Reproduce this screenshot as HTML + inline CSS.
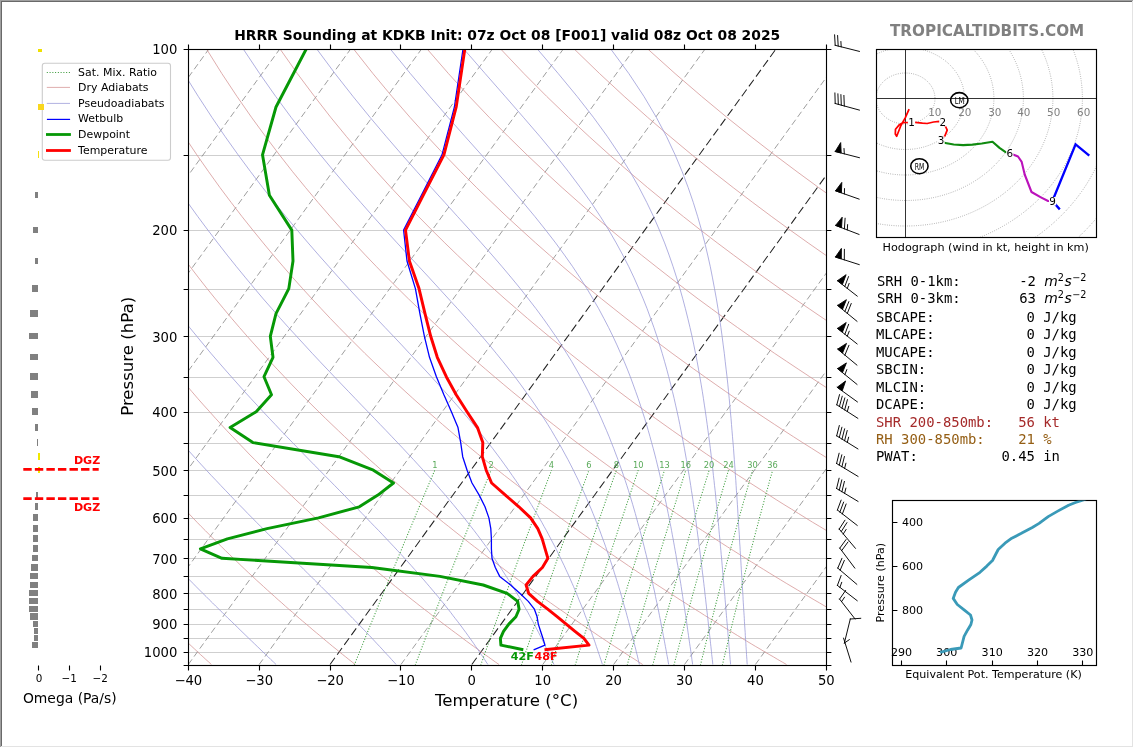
<!DOCTYPE html>
<html><head><meta charset="utf-8"><title>HRRR Sounding at KDKB</title>
<style>
html,body{margin:0;padding:0;background:#fff;}
body{width:1134px;height:748px;overflow:hidden;position:relative;}
svg{position:absolute;left:0;top:0;will-change:transform;font-family:"DejaVu Sans","Liberation Sans",sans-serif;}
svg text{white-space:pre;}
</style></head><body>
<svg width="1134" height="748" viewBox="0 0 1134 748">
<defs><clipPath id="cm"><rect x="188.2" y="49.2" width="638.1" height="616.1"/></clipPath>
<clipPath id="ch"><rect x="876.5" y="49.5" width="220" height="188"/></clipPath>
<clipPath id="ct"><rect x="892.5" y="500.5" width="204" height="165"/></clipPath>
</defs>
<g clip-path="url(#cm)" fill="none">
<path d="M188.3 155.50H826.0" stroke="#bcbcbc" stroke-width="0.72"/>
<path d="M188.3 230.50H826.0" stroke="#bcbcbc" stroke-width="0.72"/>
<path d="M188.3 289.50H826.0" stroke="#bcbcbc" stroke-width="0.72"/>
<path d="M188.3 336.50H826.0" stroke="#bcbcbc" stroke-width="0.72"/>
<path d="M188.3 377.50H826.0" stroke="#bcbcbc" stroke-width="0.72"/>
<path d="M188.3 412.50H826.0" stroke="#bcbcbc" stroke-width="0.72"/>
<path d="M188.3 443.50H826.0" stroke="#bcbcbc" stroke-width="0.72"/>
<path d="M188.3 470.50H826.0" stroke="#bcbcbc" stroke-width="0.72"/>
<path d="M188.3 495.50H826.0" stroke="#bcbcbc" stroke-width="0.72"/>
<path d="M188.3 518.50H826.0" stroke="#bcbcbc" stroke-width="0.72"/>
<path d="M188.3 539.50H826.0" stroke="#bcbcbc" stroke-width="0.72"/>
<path d="M188.3 558.50H826.0" stroke="#bcbcbc" stroke-width="0.72"/>
<path d="M188.3 576.50H826.0" stroke="#bcbcbc" stroke-width="0.72"/>
<path d="M188.3 593.50H826.0" stroke="#bcbcbc" stroke-width="0.72"/>
<path d="M188.3 609.50H826.0" stroke="#bcbcbc" stroke-width="0.72"/>
<path d="M188.3 624.50H826.0" stroke="#bcbcbc" stroke-width="0.72"/>
<path d="M188.3 638.50H826.0" stroke="#bcbcbc" stroke-width="0.72"/>
<path d="M188.3 652.50H826.0" stroke="#bcbcbc" stroke-width="0.72"/>
<path d="M-378.85 664.53L67.43 48.55" stroke="#858585" stroke-width="0.8" stroke-dasharray="6.4 3.4"/>
<path d="M-307.96 664.53L138.32 48.55" stroke="#858585" stroke-width="0.8" stroke-dasharray="6.4 3.4"/>
<path d="M-237.07 664.53L209.21 48.55" stroke="#858585" stroke-width="0.8" stroke-dasharray="6.4 3.4"/>
<path d="M-166.18 664.53L280.10 48.55" stroke="#858585" stroke-width="0.8" stroke-dasharray="6.4 3.4"/>
<path d="M-95.29 664.53L350.99 48.55" stroke="#858585" stroke-width="0.8" stroke-dasharray="6.4 3.4"/>
<path d="M-24.40 664.53L421.88 48.55" stroke="#858585" stroke-width="0.8" stroke-dasharray="6.4 3.4"/>
<path d="M46.49 664.53L492.77 48.55" stroke="#858585" stroke-width="0.8" stroke-dasharray="6.4 3.4"/>
<path d="M117.38 664.53L563.66 48.55" stroke="#858585" stroke-width="0.8" stroke-dasharray="6.4 3.4"/>
<path d="M188.27 664.53L634.55 48.55" stroke="#858585" stroke-width="0.8" stroke-dasharray="6.4 3.4"/>
<path d="M259.16 664.53L705.44 48.55" stroke="#858585" stroke-width="0.8" stroke-dasharray="6.4 3.4"/>
<path d="M330.05 664.53L776.33 48.55" stroke="#222" stroke-width="1.05" stroke-dasharray="8.3 3.8"/>
<path d="M400.94 664.53L847.22 48.55" stroke="#858585" stroke-width="0.8" stroke-dasharray="6.4 3.4"/>
<path d="M471.83 664.53L918.11 48.55" stroke="#222" stroke-width="1.05" stroke-dasharray="8.3 3.8"/>
<path d="M542.72 664.53L989.00 48.55" stroke="#858585" stroke-width="0.8" stroke-dasharray="6.4 3.4"/>
<path d="M613.61 664.53L1059.89 48.55" stroke="#858585" stroke-width="0.8" stroke-dasharray="6.4 3.4"/>
<path d="M684.50 664.53L1130.78 48.55" stroke="#858585" stroke-width="0.8" stroke-dasharray="6.4 3.4"/>
<path d="M755.39 664.53L1201.67 48.55" stroke="#858585" stroke-width="0.8" stroke-dasharray="6.4 3.4"/>
<path d="M826.28 664.53L1272.56 48.55" stroke="#858585" stroke-width="0.8" stroke-dasharray="6.4 3.4"/>
<path d="M211.4 664.5L208.7 662.0L205.9 659.5L203.1 656.9L200.3 654.4L197.5 651.8L194.7 649.1L191.9 646.5L189.0 643.8L186.1 641.1L183.3 638.3L180.4 635.5L177.4 632.7L174.5 629.9L171.6 627.0L168.6 624.1L165.6 621.2L162.6 618.3L159.6 615.3L156.5 612.2L153.5 609.2L150.4 606.1L147.3 602.9L144.2 599.8L141.1 596.5L137.9 593.3L134.8 590.0L131.6 586.7L128.4 583.3L125.1 579.9L121.9 576.4L118.6 572.9L115.3 569.3L112.0 565.7L108.7 562.0L105.3 558.3L101.9 554.5L98.5 550.7L95.1 546.8L91.6 542.9L88.1 538.9L84.6 534.8L81.1 530.7L77.5 526.5L74.0 522.3L70.3 517.9L66.7 513.5L63.0 509.0L59.3 504.5L55.6 499.9L51.8 495.1L48.0 490.3L44.2 485.4L40.3 480.4L36.4 475.4L32.5 470.2L28.6 464.9L24.6 459.5L20.5 454.0L16.5 448.3L12.4 442.6L8.2 436.7L4.0 430.7L-0.2 424.5L-4.5 418.2L-8.8 411.7L-13.1 405.1L-17.5 398.3L-22.0 391.3L-26.5 384.1L-31.0 376.7L-35.6 369.1L-40.2 361.3L-44.9 353.3L-49.7 344.9L-54.5 336.3L-59.3 327.5L-64.2 318.3L-69.2 308.7L-74.2 298.9L-79.3 288.6L-84.4 277.9L-89.6 266.7L-94.9 255.1L-100.2 242.9L-105.6 230.1L-111.0 216.7L-116.5 202.5L-122.0 187.6L-127.6 171.7L-133.2 154.8L-138.9 136.7L-144.6 117.3L-150.2 96.3L-155.8 73.5L-161.4 48.5" stroke="#d39292" stroke-width="0.75"/>
<path d="M355.2 664.5L352.1 662.0L348.9 659.5L345.7 656.9L342.5 654.4L339.3 651.8L336.1 649.1L332.8 646.5L329.6 643.8L326.3 641.1L323.0 638.3L319.7 635.5L316.3 632.7L312.9 629.9L309.6 627.0L306.2 624.1L302.7 621.2L299.3 618.3L295.8 615.3L292.4 612.2L288.8 609.2L285.3 606.1L281.8 602.9L278.2 599.8L274.6 596.5L271.0 593.3L267.3 590.0L263.7 586.7L260.0 583.3L256.2 579.9L252.5 576.4L248.7 572.9L244.9 569.3L241.1 565.7L237.3 562.0L233.4 558.3L229.5 554.5L225.5 550.7L221.6 546.8L217.6 542.9L213.5 538.9L209.5 534.8L205.4 530.7L201.2 526.5L197.1 522.3L192.9 517.9L188.7 513.5L184.4 509.0L180.1 504.5L175.7 499.9L171.4 495.1L166.9 490.3L162.5 485.4L158.0 480.4L153.4 475.4L148.9 470.2L144.2 464.9L139.6 459.5L134.8 454.0L130.1 448.3L125.3 442.6L120.4 436.7L115.5 430.7L110.5 424.5L105.5 418.2L100.4 411.7L95.3 405.1L90.1 398.3L84.8 391.3L79.5 384.1L74.1 376.7L68.6 369.1L63.1 361.3L57.5 353.3L51.9 344.9L46.1 336.3L40.3 327.5L34.4 318.3L28.4 308.7L22.4 298.9L16.2 288.6L10.0 277.9L3.6 266.7L-2.8 255.1L-9.3 242.9L-16.0 230.1L-22.7 216.7L-29.6 202.5L-36.5 187.6L-43.6 171.7L-50.7 154.8L-58.0 136.7L-65.3 117.3L-72.8 96.3L-80.3 73.5L-87.9 48.5" stroke="#d39292" stroke-width="0.75"/>
<path d="M499.0 664.5L495.4 662.0L491.9 659.5L488.3 656.9L484.7 654.4L481.1 651.8L477.5 649.1L473.8 646.5L470.1 643.8L466.4 641.1L462.7 638.3L459.0 635.5L455.2 632.7L451.4 629.9L447.6 627.0L443.7 624.1L439.9 621.2L436.0 618.3L432.1 615.3L428.2 612.2L424.2 609.2L420.2 606.1L416.2 602.9L412.2 599.8L408.1 596.5L404.0 593.3L399.9 590.0L395.7 586.7L391.6 583.3L387.3 579.9L383.1 576.4L378.8 572.9L374.5 569.3L370.2 565.7L365.8 562.0L361.4 558.3L357.0 554.5L352.5 550.7L348.0 546.8L343.5 542.9L338.9 538.9L334.3 534.8L329.6 530.7L324.9 526.5L320.2 522.3L315.4 517.9L310.6 513.5L305.8 509.0L300.9 504.5L295.9 499.9L290.9 495.1L285.9 490.3L280.8 485.4L275.6 480.4L270.4 475.4L265.2 470.2L259.9 464.9L254.6 459.5L249.1 454.0L243.7 448.3L238.2 442.6L232.6 436.7L226.9 430.7L221.2 424.5L215.4 418.2L209.6 411.7L203.6 405.1L197.6 398.3L191.6 391.3L185.4 384.1L179.2 376.7L172.8 369.1L166.4 361.3L159.9 353.3L153.4 344.9L146.7 336.3L139.9 327.5L133.0 318.3L126.0 308.7L118.9 298.9L111.7 288.6L104.3 277.9L96.8 266.7L89.2 255.1L81.5 242.9L73.6 230.1L65.6 216.7L57.4 202.5L49.0 187.6L40.5 171.7L31.8 154.8L22.9 136.7L13.9 117.3L4.6 96.3L-4.8 73.5L-14.4 48.5" stroke="#d39292" stroke-width="0.75"/>
<path d="M642.7 664.5L638.8 662.0L634.9 659.5L630.9 656.9L626.9 654.4L622.9 651.8L618.8 649.1L614.8 646.5L610.7 643.8L606.6 641.1L602.4 638.3L598.2 635.5L594.1 632.7L589.8 629.9L585.6 627.0L581.3 624.1L577.0 621.2L572.7 618.3L568.4 615.3L564.0 612.2L559.6 609.2L555.1 606.1L550.6 602.9L546.1 599.8L541.6 596.5L537.0 593.3L532.4 590.0L527.8 586.7L523.1 583.3L518.5 579.9L513.7 576.4L508.9 572.9L504.1 569.3L499.3 565.7L494.4 562.0L489.5 558.3L484.5 554.5L479.5 550.7L474.5 546.8L469.4 542.9L464.3 538.9L459.1 534.8L453.9 530.7L448.7 526.5L443.3 522.3L438.0 517.9L432.6 513.5L427.1 509.0L421.6 504.5L416.1 499.9L410.5 495.1L404.8 490.3L399.1 485.4L393.3 480.4L387.4 475.4L381.5 470.2L375.6 464.9L369.5 459.5L363.5 454.0L357.3 448.3L351.0 442.6L344.7 436.7L338.4 430.7L331.9 424.5L325.3 418.2L318.7 411.7L312.0 405.1L305.2 398.3L298.3 391.3L291.3 384.1L284.3 376.7L277.1 369.1L269.8 361.3L262.4 353.3L254.9 344.9L247.2 336.3L239.5 327.5L231.6 318.3L223.6 308.7L215.4 298.9L207.1 288.6L198.7 277.9L190.1 266.7L181.3 255.1L172.3 242.9L163.2 230.1L153.8 216.7L144.3 202.5L134.5 187.6L124.5 171.7L114.3 154.8L103.8 136.7L93.1 117.3L82.1 96.3L70.8 73.5L59.1 48.5" stroke="#d39292" stroke-width="0.75"/>
<path d="M786.5 664.5L782.2 662.0L777.8 659.5L773.5 656.9L769.1 654.4L764.6 651.8L760.2 649.1L755.7 646.5L751.2 643.8L746.7 641.1L742.1 638.3L737.5 635.5L732.9 632.7L728.3 629.9L723.6 627.0L718.9 624.1L714.2 621.2L709.4 618.3L704.6 615.3L699.8 612.2L694.9 609.2L690.0 606.1L685.1 602.9L680.1 599.8L675.1 596.5L670.1 593.3L665.0 590.0L659.9 586.7L654.7 583.3L649.6 579.9L644.3 576.4L639.1 572.9L633.7 569.3L628.4 565.7L623.0 562.0L617.6 558.3L612.1 554.5L606.5 550.7L601.0 546.8L595.3 542.9L589.7 538.9L584.0 534.8L578.2 530.7L572.4 526.5L566.5 522.3L560.5 517.9L554.6 513.5L548.5 509.0L542.4 504.5L536.2 499.9L530.0 495.1L523.7 490.3L517.4 485.4L510.9 480.4L504.4 475.4L497.9 470.2L491.3 464.9L484.5 459.5L477.8 454.0L470.9 448.3L463.9 442.6L456.9 436.7L449.8 430.7L442.6 424.5L435.3 418.2L427.9 411.7L420.4 405.1L412.8 398.3L405.1 391.3L397.3 384.1L389.3 376.7L381.3 369.1L373.1 361.3L364.8 353.3L356.4 344.9L347.8 336.3L339.1 327.5L330.2 318.3L321.2 308.7L312.0 298.9L302.6 288.6L293.0 277.9L283.3 266.7L273.3 255.1L263.2 242.9L252.8 230.1L242.1 216.7L231.2 202.5L220.0 187.6L208.6 171.7L196.8 154.8L184.7 136.7L172.3 117.3L159.5 96.3L146.3 73.5L132.6 48.5" stroke="#d39292" stroke-width="0.75"/>
<path d="M930.3 664.5L925.6 662.0L920.8 659.5L916.1 656.9L911.3 654.4L906.4 651.8L901.6 649.1L896.7 646.5L891.8 643.8L886.8 641.1L881.9 638.3L876.8 635.5L871.8 632.7L866.7 629.9L861.6 627.0L856.5 624.1L851.3 621.2L846.1 618.3L840.9 615.3L835.6 612.2L830.3 609.2L824.9 606.1L819.5 602.9L814.1 599.8L808.6 596.5L803.1 593.3L797.6 590.0L792.0 586.7L786.3 583.3L780.7 579.9L774.9 576.4L769.2 572.9L763.4 569.3L757.5 565.7L751.6 562.0L745.6 558.3L739.6 554.5L733.6 550.7L727.4 546.8L721.3 542.9L715.1 538.9L708.8 534.8L702.5 530.7L696.1 526.5L689.6 522.3L683.1 517.9L676.5 513.5L669.9 509.0L663.2 504.5L656.4 499.9L649.6 495.1L642.6 490.3L635.7 485.4L628.6 480.4L621.4 475.4L614.2 470.2L606.9 464.9L599.5 459.5L592.1 454.0L584.5 448.3L576.8 442.6L569.1 436.7L561.2 430.7L553.3 424.5L545.2 418.2L537.0 411.7L528.8 405.1L520.4 398.3L511.8 391.3L503.2 384.1L494.4 376.7L485.5 369.1L476.4 361.3L467.2 353.3L457.9 344.9L448.4 336.3L438.7 327.5L428.8 318.3L418.8 308.7L408.5 298.9L398.1 288.6L387.4 277.9L376.5 266.7L365.4 255.1L354.0 242.9L342.3 230.1L330.4 216.7L318.1 202.5L305.6 187.6L292.6 171.7L279.4 154.8L265.7 136.7L251.5 117.3L236.9 96.3L221.8 73.5L206.2 48.5" stroke="#d39292" stroke-width="0.75"/>
<path d="M1074.0 664.5L1068.9 662.0L1063.8 659.5L1058.6 656.9L1053.4 654.4L1048.2 651.8L1042.9 649.1L1037.7 646.5L1032.3 643.8L1027.0 641.1L1021.6 638.3L1016.1 635.5L1010.7 632.7L1005.2 629.9L999.6 627.0L994.1 624.1L988.5 621.2L982.8 618.3L977.1 615.3L971.4 612.2L965.6 609.2L959.8 606.1L954.0 602.9L948.1 599.8L942.1 596.5L936.1 593.3L930.1 590.0L924.0 586.7L917.9 583.3L911.8 579.9L905.5 576.4L899.3 572.9L893.0 569.3L886.6 565.7L880.2 562.0L873.7 558.3L867.2 554.5L860.6 550.7L853.9 546.8L847.2 542.9L840.4 538.9L833.6 534.8L826.7 530.7L819.8 526.5L812.7 522.3L805.6 517.9L798.5 513.5L791.3 509.0L783.9 504.5L776.6 499.9L769.1 495.1L761.6 490.3L753.9 485.4L746.2 480.4L738.4 475.4L730.6 470.2L722.6 464.9L714.5 459.5L706.4 454.0L698.1 448.3L689.7 442.6L681.3 436.7L672.7 430.7L664.0 424.5L655.2 418.2L646.2 411.7L637.1 405.1L627.9 398.3L618.6 391.3L609.1 384.1L599.5 376.7L589.7 369.1L579.8 361.3L569.7 353.3L559.4 344.9L548.9 336.3L538.3 327.5L527.4 318.3L516.3 308.7L505.0 298.9L493.5 288.6L481.8 277.9L469.7 266.7L457.4 255.1L444.8 242.9L431.9 230.1L418.7 216.7L405.1 202.5L391.1 187.6L376.7 171.7L361.9 154.8L346.6 136.7L330.7 117.3L314.4 96.3L297.3 73.5L279.7 48.5" stroke="#d39292" stroke-width="0.75"/>
<path d="M1217.8 664.5L1212.3 662.0L1206.8 659.5L1201.2 656.9L1195.6 654.4L1190.0 651.8L1184.3 649.1L1178.6 646.5L1172.9 643.8L1167.1 641.1L1161.3 638.3L1155.4 635.5L1149.6 632.7L1143.6 629.9L1137.7 627.0L1131.7 624.1L1125.6 621.2L1119.5 618.3L1113.4 615.3L1107.2 612.2L1101.0 609.2L1094.7 606.1L1088.4 602.9L1082.0 599.8L1075.6 596.5L1069.2 593.3L1062.7 590.0L1056.1 586.7L1049.5 583.3L1042.9 579.9L1036.1 576.4L1029.4 572.9L1022.6 569.3L1015.7 565.7L1008.7 562.0L1001.7 558.3L994.7 554.5L987.6 550.7L980.4 546.8L973.1 542.9L965.8 538.9L958.4 534.8L951.0 530.7L943.5 526.5L935.9 522.3L928.2 517.9L920.5 513.5L912.6 509.0L904.7 504.5L896.7 499.9L888.7 495.1L880.5 490.3L872.2 485.4L863.9 480.4L855.4 475.4L846.9 470.2L838.3 464.9L829.5 459.5L820.7 454.0L811.7 448.3L802.6 442.6L793.4 436.7L784.1 430.7L774.7 424.5L765.1 418.2L755.4 411.7L745.5 405.1L735.5 398.3L725.4 391.3L715.1 384.1L704.6 376.7L693.9 369.1L683.1 361.3L672.1 353.3L660.9 344.9L649.5 336.3L637.9 327.5L626.0 318.3L613.9 308.7L601.6 298.9L589.0 288.6L576.1 277.9L562.9 266.7L549.5 255.1L535.6 242.9L521.5 230.1L506.9 216.7L492.0 202.5L476.6 187.6L460.8 171.7L444.4 154.8L427.5 136.7L410.0 117.3L391.8 96.3L372.9 73.5L353.2 48.5" stroke="#d39292" stroke-width="0.75"/>
<path d="M1361.6 664.5L1355.7 662.0L1349.8 659.5L1343.8 656.9L1337.8 654.4L1331.8 651.8L1325.7 649.1L1319.6 646.5L1313.4 643.8L1307.2 641.1L1301.0 638.3L1294.7 635.5L1288.4 632.7L1282.1 629.9L1275.7 627.0L1269.2 624.1L1262.7 621.2L1256.2 618.3L1249.6 615.3L1243.0 612.2L1236.3 609.2L1229.6 606.1L1222.8 602.9L1216.0 599.8L1209.1 596.5L1202.2 593.3L1195.2 590.0L1188.2 586.7L1181.1 583.3L1174.0 579.9L1166.8 576.4L1159.5 572.9L1152.2 569.3L1144.8 565.7L1137.3 562.0L1129.8 558.3L1122.2 554.5L1114.6 550.7L1106.9 546.8L1099.1 542.9L1091.2 538.9L1083.3 534.8L1075.3 530.7L1067.2 526.5L1059.0 522.3L1050.8 517.9L1042.4 513.5L1034.0 509.0L1025.5 504.5L1016.9 499.9L1008.2 495.1L999.4 490.3L990.5 485.4L981.5 480.4L972.4 475.4L963.2 470.2L953.9 464.9L944.5 459.5L935.0 454.0L925.3 448.3L915.5 442.6L905.6 436.7L895.6 430.7L885.4 424.5L875.0 418.2L864.5 411.7L853.9 405.1L843.1 398.3L832.1 391.3L821.0 384.1L809.7 376.7L798.2 369.1L786.5 361.3L774.5 353.3L762.4 344.9L750.1 336.3L737.5 327.5L724.6 318.3L711.5 308.7L698.1 298.9L684.5 288.6L670.5 277.9L656.2 266.7L641.5 255.1L626.5 242.9L611.1 230.1L595.2 216.7L578.9 202.5L562.1 187.6L544.8 171.7L526.9 154.8L508.4 136.7L489.2 117.3L469.2 96.3L448.4 73.5L426.7 48.5" stroke="#d39292" stroke-width="0.75"/>
<path d="M1505.3 664.5L1499.1 662.0L1492.7 659.5L1486.4 656.9L1480.0 654.4L1473.5 651.8L1467.1 649.1L1460.6 646.5L1454.0 643.8L1447.4 641.1L1440.7 638.3L1434.0 635.5L1427.3 632.7L1420.5 629.9L1413.7 627.0L1406.8 624.1L1399.9 621.2L1392.9 618.3L1385.9 615.3L1378.8 612.2L1371.7 609.2L1364.5 606.1L1357.3 602.9L1350.0 599.8L1342.7 596.5L1335.3 593.3L1327.8 590.0L1320.3 586.7L1312.7 583.3L1305.1 579.9L1297.4 576.4L1289.6 572.9L1281.8 569.3L1273.9 565.7L1265.9 562.0L1257.9 558.3L1249.8 554.5L1241.6 550.7L1233.3 546.8L1225.0 542.9L1216.6 538.9L1208.1 534.8L1199.5 530.7L1190.9 526.5L1182.1 522.3L1173.3 517.9L1164.4 513.5L1155.4 509.0L1146.3 504.5L1137.1 499.9L1127.7 495.1L1118.3 490.3L1108.8 485.4L1099.2 480.4L1089.4 475.4L1079.6 470.2L1069.6 464.9L1059.5 459.5L1049.3 454.0L1038.9 448.3L1028.4 442.6L1017.8 436.7L1007.0 430.7L996.1 424.5L985.0 418.2L973.7 411.7L962.3 405.1L950.7 398.3L938.9 391.3L926.9 384.1L914.8 376.7L902.4 369.1L889.8 361.3L877.0 353.3L863.9 344.9L850.6 336.3L837.1 327.5L823.2 318.3L809.1 308.7L794.7 298.9L779.9 288.6L764.8 277.9L749.4 266.7L733.6 255.1L717.3 242.9L700.6 230.1L683.5 216.7L665.8 202.5L647.6 187.6L628.9 171.7L609.4 154.8L589.3 136.7L568.4 117.3L546.6 96.3L523.9 73.5L500.2 48.5" stroke="#d39292" stroke-width="0.75"/>
<path d="M1649.1 664.5L1642.4 662.0L1635.7 659.5L1629.0 656.9L1622.2 654.4L1615.3 651.8L1608.4 649.1L1601.5 646.5L1594.5 643.8L1587.5 641.1L1580.5 638.3L1573.3 635.5L1566.2 632.7L1559.0 629.9L1551.7 627.0L1544.4 624.1L1537.0 621.2L1529.6 618.3L1522.2 615.3L1514.6 612.2L1507.1 609.2L1499.4 606.1L1491.7 602.9L1484.0 599.8L1476.2 596.5L1468.3 593.3L1460.4 590.0L1452.4 586.7L1444.3 583.3L1436.2 579.9L1428.0 576.4L1419.7 572.9L1411.4 569.3L1403.0 565.7L1394.5 562.0L1385.9 558.3L1377.3 554.5L1368.6 550.7L1359.8 546.8L1350.9 542.9L1342.0 538.9L1332.9 534.8L1323.8 530.7L1314.6 526.5L1305.3 522.3L1295.9 517.9L1286.4 513.5L1276.7 509.0L1267.0 504.5L1257.2 499.9L1247.3 495.1L1237.3 490.3L1227.1 485.4L1216.8 480.4L1206.4 475.4L1195.9 470.2L1185.3 464.9L1174.5 459.5L1163.6 454.0L1152.5 448.3L1141.3 442.6L1130.0 436.7L1118.4 430.7L1106.8 424.5L1094.9 418.2L1082.9 411.7L1070.7 405.1L1058.3 398.3L1045.7 391.3L1032.9 384.1L1019.8 376.7L1006.6 369.1L993.1 361.3L979.4 353.3L965.4 344.9L951.2 336.3L936.6 327.5L921.8 318.3L906.7 308.7L891.2 298.9L875.4 288.6L859.2 277.9L842.6 266.7L825.6 255.1L808.1 242.9L790.2 230.1L771.8 216.7L752.8 202.5L733.2 187.6L712.9 171.7L691.9 154.8L670.2 136.7L647.6 117.3L624.1 96.3L599.5 73.5L573.7 48.5" stroke="#d39292" stroke-width="0.75"/>
<path d="M1792.9 664.5L1785.8 662.0L1778.7 659.5L1771.6 656.9L1764.4 654.4L1757.1 651.8L1749.8 649.1L1742.5 646.5L1735.1 643.8L1727.7 641.1L1720.2 638.3L1712.6 635.5L1705.1 632.7L1697.4 629.9L1689.7 627.0L1682.0 624.1L1674.2 621.2L1666.3 618.3L1658.4 615.3L1650.4 612.2L1642.4 609.2L1634.3 606.1L1626.2 602.9L1617.9 599.8L1609.7 596.5L1601.3 593.3L1592.9 590.0L1584.4 586.7L1575.9 583.3L1567.3 579.9L1558.6 576.4L1549.8 572.9L1541.0 569.3L1532.1 565.7L1523.1 562.0L1514.0 558.3L1504.8 554.5L1495.6 550.7L1486.3 546.8L1476.9 542.9L1467.4 538.9L1457.8 534.8L1448.1 530.7L1438.3 526.5L1428.4 522.3L1418.4 517.9L1408.3 513.5L1398.1 509.0L1387.8 504.5L1377.4 499.9L1366.8 495.1L1356.2 490.3L1345.4 485.4L1334.5 480.4L1323.4 475.4L1312.3 470.2L1301.0 464.9L1289.5 459.5L1277.9 454.0L1266.1 448.3L1254.2 442.6L1242.1 436.7L1229.9 430.7L1217.4 424.5L1204.8 418.2L1192.0 411.7L1179.0 405.1L1165.8 398.3L1152.4 391.3L1138.8 384.1L1124.9 376.7L1110.8 369.1L1096.5 361.3L1081.8 353.3L1066.9 344.9L1051.7 336.3L1036.2 327.5L1020.4 318.3L1004.3 308.7L987.7 298.9L970.9 288.6L953.6 277.9L935.8 266.7L917.6 255.1L899.0 242.9L879.8 230.1L860.0 216.7L839.7 202.5L818.7 187.6L797.0 171.7L774.5 154.8L751.1 136.7L726.8 117.3L701.5 96.3L675.0 73.5L647.2 48.5" stroke="#d39292" stroke-width="0.75"/>
<path d="M-124.6 48.5L-118.1 73.5L-111.5 96.3L-105.0 117.3L-98.4 136.7L-92.0 154.8L-85.6 171.7L-79.3 187.6L-73.0 202.5L-66.9 216.7L-60.8 230.1L-54.8 242.9L-48.8 255.1L-43.0 266.7L-37.2 277.9L-31.5 288.6L-25.9 298.9L-20.4 308.7L-14.9 318.3L-9.5 327.5L-4.2 336.3L1.1 344.9L6.3 353.3L11.4 361.3L16.5 369.1L21.5 376.7L26.5 384.1L31.4 391.3L36.3 398.3L41.1 405.1L45.8 411.7L50.5 418.2L55.1 424.5L59.7 430.7L64.3 436.7L68.8 442.6L73.2 448.3L77.6 454.0L82.0 459.5L86.3 464.9L90.6 470.2L94.9 475.4L99.1 480.4L103.2 485.4L107.4 490.3L111.5 495.1L115.5 499.9L119.5 504.5L123.5 509.0L127.4 513.5L131.4 517.9L135.2 522.3L139.1 526.5L142.9 530.7L146.7 534.8L150.4 538.9L154.1 542.9L157.8 546.8L161.4 550.7L165.0 554.5L168.6 558.3L172.2 562.0L175.7 565.7L179.2 569.3L182.7 572.9L186.1 576.4L189.5 579.9L192.9 583.3L196.2 586.7L199.5 590.0L202.8 593.3L206.1 596.5L209.3 599.8L212.5 602.9L215.7 606.1L218.9 609.2L222.0 612.2L225.1 615.3L228.1 618.3L231.2 621.2L234.2 624.1L237.2 627.0L240.1 629.9L243.0 632.7L245.9 635.5L248.8 638.3L251.7 641.1L254.5 643.8L257.3 646.5L260.0 649.1L262.8 651.8L265.5 654.4L268.2 656.9L270.8 659.5L273.5 662.0L276.1 664.5" stroke="#9595d5" stroke-width="0.75"/>
<path d="M-51.1 48.5L-42.5 73.5L-34.1 96.3L-25.7 117.3L-17.5 136.7L-9.5 154.8L-1.5 171.7L6.3 187.6L13.9 202.5L21.4 216.7L28.8 230.1L36.1 242.9L43.2 255.1L50.2 266.7L57.1 277.9L63.9 288.6L70.6 298.9L77.2 308.7L83.7 318.3L90.1 327.5L96.4 336.3L102.6 344.9L108.7 353.3L114.7 361.3L120.7 369.1L126.6 376.7L132.4 384.1L138.1 391.3L143.7 398.3L149.3 405.1L154.8 411.7L160.3 418.2L165.7 424.5L171.0 430.7L176.2 436.7L181.4 442.6L186.5 448.3L191.6 454.0L196.6 459.5L201.5 464.9L206.4 470.2L211.2 475.4L216.0 480.4L220.7 485.4L225.4 490.3L230.0 495.1L234.5 499.9L239.0 504.5L243.5 509.0L247.8 513.5L252.2 517.9L256.5 522.3L260.7 526.5L264.9 530.7L269.0 534.8L273.0 538.9L277.1 542.9L281.0 546.8L284.9 550.7L288.8 554.5L292.6 558.3L296.4 562.0L300.1 565.7L303.7 569.3L307.3 572.9L310.9 576.4L314.4 579.9L317.9 583.3L321.3 586.7L324.6 590.0L327.9 593.3L331.2 596.5L334.4 599.8L337.6 602.9L340.7 606.1L343.8 609.2L346.8 612.2L349.8 615.3L352.7 618.3L355.6 621.2L358.4 624.1L361.2 627.0L364.0 629.9L366.7 632.7L369.4 635.5L372.0 638.3L374.6 641.1L377.1 643.8L379.7 646.5L382.1 649.1L384.5 651.8L386.9 654.4L389.3 656.9L391.6 659.5L393.9 662.0L396.1 664.5" stroke="#9595d5" stroke-width="0.75"/>
<path d="M22.4 48.5L33.0 73.5L43.3 96.3L53.5 117.3L63.4 136.7L73.1 154.8L82.5 171.7L91.8 187.6L100.8 202.5L109.7 216.7L118.4 230.1L126.9 242.9L135.2 255.1L143.4 266.7L151.5 277.9L159.4 288.6L167.1 298.9L174.7 308.7L182.2 318.3L189.6 327.5L196.8 336.3L203.9 344.9L210.9 353.3L217.8 361.3L224.6 369.1L231.3 376.7L237.9 384.1L244.3 391.3L250.7 398.3L257.0 405.1L263.1 411.7L269.2 418.2L275.2 424.5L281.0 430.7L286.8 436.7L292.5 442.6L298.1 448.3L303.6 454.0L308.9 459.5L314.2 464.9L319.5 470.2L324.6 475.4L329.6 480.4L334.5 485.4L339.3 490.3L344.1 495.1L348.7 499.9L353.3 504.5L357.8 509.0L362.1 513.5L366.4 517.9L370.6 522.3L374.7 526.5L378.8 530.7L382.7 534.8L386.5 538.9L390.3 542.9L394.0 546.8L397.6 550.7L401.2 554.5L404.6 558.3L408.0 562.0L411.3 565.7L414.5 569.3L417.7 572.9L420.7 576.4L423.8 579.9L426.7 583.3L429.6 586.7L432.4 590.0L435.2 593.3L437.9 596.5L440.5 599.8L443.1 602.9L445.6 606.1L448.1 609.2L450.5 612.2L452.8 615.3L455.1 618.3L457.4 621.2L459.6 624.1L461.8 627.0L463.9 629.9L466.0 632.7L468.0 635.5L470.0 638.3L472.0 641.1L473.9 643.8L475.7 646.5L477.6 649.1L479.4 651.8L481.1 654.4L482.9 656.9L484.6 659.5L486.2 662.0L487.9 664.5" stroke="#9595d5" stroke-width="0.75"/>
<path d="M95.9 48.5L108.5 73.5L120.8 96.3L132.7 117.3L144.3 136.7L155.6 154.8L166.6 171.7L177.3 187.6L187.7 202.5L197.9 216.7L207.9 230.1L217.7 242.9L227.2 255.1L236.5 266.7L245.7 277.9L254.6 288.6L263.3 298.9L271.9 308.7L280.3 318.3L288.5 327.5L296.6 336.3L304.5 344.9L312.2 353.3L319.7 361.3L327.1 369.1L334.3 376.7L341.4 384.1L348.3 391.3L355.0 398.3L361.5 405.1L367.9 411.7L374.2 418.2L380.2 424.5L386.2 430.7L391.9 436.7L397.5 442.6L402.9 448.3L408.2 454.0L413.4 459.5L418.3 464.9L423.2 470.2L427.9 475.4L432.4 480.4L436.8 485.4L441.1 490.3L445.3 495.1L449.3 499.9L453.2 504.5L456.9 509.0L460.6 513.5L464.2 517.9L467.6 522.3L470.9 526.5L474.2 530.7L477.3 534.8L480.4 538.9L483.3 542.9L486.2 546.8L489.0 550.7L491.7 554.5L494.3 558.3L496.8 562.0L499.3 565.7L501.7 569.3L504.0 572.9L506.3 576.4L508.5 579.9L510.7 583.3L512.8 586.7L514.8 590.0L516.8 593.3L518.8 596.5L520.7 599.8L522.5 602.9L524.3 606.1L526.0 609.2L527.8 612.2L529.4 615.3L531.1 618.3L532.7 621.2L534.2 624.1L535.7 627.0L537.2 629.9L538.7 632.7L540.1 635.5L541.5 638.3L542.9 641.1L544.2 643.8L545.5 646.5L546.8 649.1L548.0 651.8L549.3 654.4L550.5 656.9L551.7 659.5L552.8 662.0L554.0 664.5" stroke="#9595d5" stroke-width="0.75"/>
<path d="M169.4 48.5L184.0 73.5L198.2 96.3L211.9 117.3L225.2 136.7L238.1 154.8L250.6 171.7L262.7 187.6L274.5 202.5L286.0 216.7L297.2 230.1L308.1 242.9L318.7 255.1L329.0 266.7L339.0 277.9L348.8 288.6L358.3 298.9L367.5 308.7L376.4 318.3L385.1 327.5L393.5 336.3L401.6 344.9L409.4 353.3L417.0 361.3L424.3 369.1L431.3 376.7L438.0 384.1L444.5 391.3L450.8 398.3L456.8 405.1L462.5 411.7L468.1 418.2L473.4 424.5L478.4 430.7L483.3 436.7L488.0 442.6L492.5 448.3L496.8 454.0L500.9 459.5L504.8 464.9L508.6 470.2L512.2 475.4L515.7 480.4L519.1 485.4L522.3 490.3L525.4 495.1L528.4 499.9L531.3 504.5L534.0 509.0L536.7 513.5L539.3 517.9L541.8 522.3L544.1 526.5L546.5 530.7L548.7 534.8L550.8 538.9L552.9 542.9L555.0 546.8L556.9 550.7L558.8 554.5L560.6 558.3L562.4 562.0L564.2 565.7L565.8 569.3L567.5 572.9L569.1 576.4L570.6 579.9L572.1 583.3L573.6 586.7L575.0 590.0L576.4 593.3L577.7 596.5L579.0 599.8L580.3 602.9L581.6 606.1L582.8 609.2L584.0 612.2L585.1 615.3L586.3 618.3L587.4 621.2L588.5 624.1L589.6 627.0L590.6 629.9L591.6 632.7L592.6 635.5L593.6 638.3L594.6 641.1L595.5 643.8L596.4 646.5L597.3 649.1L598.2 651.8L599.1 654.4L599.9 656.9L600.8 659.5L601.6 662.0L602.4 664.5" stroke="#9595d5" stroke-width="0.75"/>
<path d="M242.9 48.5L259.6 73.5L275.6 96.3L291.1 117.3L306.0 136.7L320.4 154.8L334.3 171.7L347.8 187.6L360.8 202.5L373.3 216.7L385.4 230.1L397.1 242.9L408.3 255.1L419.0 266.7L429.4 277.9L439.2 288.6L448.6 298.9L457.6 308.7L466.2 318.3L474.3 327.5L482.0 336.3L489.3 344.9L496.2 353.3L502.7 361.3L508.9 369.1L514.8 376.7L520.3 384.1L525.5 391.3L530.5 398.3L535.2 405.1L539.6 411.7L543.8 418.2L547.8 424.5L551.6 430.7L555.1 436.7L558.6 442.6L561.8 448.3L564.9 454.0L567.9 459.5L570.7 464.9L573.4 470.2L575.9 475.4L578.4 480.4L580.7 485.4L583.0 490.3L585.2 495.1L587.2 499.9L589.2 504.5L591.2 509.0L593.0 513.5L594.8 517.9L596.5 522.3L598.2 526.5L599.8 530.7L601.3 534.8L602.8 538.9L604.3 542.9L605.7 546.8L607.0 550.7L608.4 554.5L609.6 558.3L610.9 562.0L612.1 565.7L613.3 569.3L614.4 572.9L615.5 576.4L616.6 579.9L617.7 583.3L618.7 586.7L619.7 590.0L620.7 593.3L621.6 596.5L622.5 599.8L623.4 602.9L624.3 606.1L625.2 609.2L626.1 612.2L626.9 615.3L627.7 618.3L628.5 621.2L629.3 624.1L630.0 627.0L630.8 629.9L631.5 632.7L632.3 635.5L633.0 638.3L633.7 641.1L634.3 643.8L635.0 646.5L635.7 649.1L636.3 651.8L637.0 654.4L637.6 656.9L638.2 659.5L638.8 662.0L639.4 664.5" stroke="#9595d5" stroke-width="0.75"/>
<path d="M316.4 48.5L335.0 73.5L352.9 96.3L370.0 117.3L386.4 136.7L402.0 154.8L417.0 171.7L431.3 187.6L444.9 202.5L457.7 216.7L469.9 230.1L481.3 242.9L492.1 255.1L502.1 266.7L511.5 277.9L520.3 288.6L528.4 298.9L536.0 308.7L543.1 318.3L549.6 327.5L555.7 336.3L561.4 344.9L566.6 353.3L571.6 361.3L576.1 369.1L580.4 376.7L584.4 384.1L588.2 391.3L591.7 398.3L595.1 405.1L598.2 411.7L601.2 418.2L603.9 424.5L606.6 430.7L609.1 436.7L611.4 442.6L613.7 448.3L615.8 454.0L617.9 459.5L619.8 464.9L621.7 470.2L623.5 475.4L625.2 480.4L626.8 485.4L628.4 490.3L629.9 495.1L631.3 499.9L632.7 504.5L634.0 509.0L635.3 513.5L636.5 517.9L637.7 522.3L638.9 526.5L640.0 530.7L641.1 534.8L642.2 538.9L643.2 542.9L644.2 546.8L645.1 550.7L646.1 554.5L647.0 558.3L647.9 562.0L648.7 565.7L649.6 569.3L650.4 572.9L651.2 576.4L651.9 579.9L652.7 583.3L653.4 586.7L654.2 590.0L654.9 593.3L655.5 596.5L656.2 599.8L656.9 602.9L657.5 606.1L658.2 609.2L658.8 612.2L659.4 615.3L660.0 618.3L660.6 621.2L661.1 624.1L661.7 627.0L662.3 629.9L662.8 632.7L663.3 635.5L663.9 638.3L664.4 641.1L664.9 643.8L665.4 646.5L665.9 649.1L666.4 651.8L666.8 654.4L667.3 656.9L667.8 659.5L668.2 662.0L668.7 664.5" stroke="#9595d5" stroke-width="0.75"/>
<path d="M389.9 48.5L410.3 73.5L429.7 96.3L448.0 117.3L465.2 136.7L481.4 154.8L496.4 171.7L510.3 187.6L523.2 202.5L535.0 216.7L545.7 230.1L555.6 242.9L564.5 255.1L572.7 266.7L580.1 277.9L586.9 288.6L593.0 298.9L598.7 308.7L603.8 318.3L608.6 327.5L612.9 336.3L616.9 344.9L620.6 353.3L624.1 361.3L627.3 369.1L630.3 376.7L633.0 384.1L635.6 391.3L638.1 398.3L640.4 405.1L642.5 411.7L644.6 418.2L646.5 424.5L648.3 430.7L650.0 436.7L651.6 442.6L653.2 448.3L654.7 454.0L656.1 459.5L657.4 464.9L658.7 470.2L659.9 475.4L661.1 480.4L662.3 485.4L663.3 490.3L664.4 495.1L665.4 499.9L666.4 504.5L667.3 509.0L668.2 513.5L669.1 517.9L669.9 522.3L670.8 526.5L671.6 530.7L672.3 534.8L673.1 538.9L673.8 542.9L674.5 546.8L675.2 550.7L675.9 554.5L676.5 558.3L677.1 562.0L677.8 565.7L678.4 569.3L679.0 572.9L679.5 576.4L680.1 579.9L680.7 583.3L681.2 586.7L681.7 590.0L682.2 593.3L682.7 596.5L683.2 599.8L683.7 602.9L684.2 606.1L684.7 609.2L685.1 612.2L685.6 615.3L686.0 618.3L686.5 621.2L686.9 624.1L687.3 627.0L687.7 629.9L688.1 632.7L688.5 635.5L688.9 638.3L689.3 641.1L689.7 643.8L690.1 646.5L690.5 649.1L690.9 651.8L691.2 654.4L691.6 656.9L691.9 659.5L692.3 662.0L692.6 664.5" stroke="#9595d5" stroke-width="0.75"/>
<path d="M463.4 48.5L485.1 73.5L505.1 96.3L523.4 117.3L540.1 136.7L555.1 154.8L568.5 171.7L580.4 187.6L591.1 202.5L600.5 216.7L608.8 230.1L616.2 242.9L622.8 255.1L628.8 266.7L634.1 277.9L638.8 288.6L643.2 298.9L647.1 308.7L650.6 318.3L653.9 327.5L656.9 336.3L659.6 344.9L662.2 353.3L664.5 361.3L666.7 369.1L668.7 376.7L670.6 384.1L672.4 391.3L674.1 398.3L675.6 405.1L677.1 411.7L678.5 418.2L679.8 424.5L681.0 430.7L682.2 436.7L683.3 442.6L684.4 448.3L685.4 454.0L686.4 459.5L687.3 464.9L688.2 470.2L689.1 475.4L689.9 480.4L690.7 485.4L691.4 490.3L692.2 495.1L692.9 499.9L693.5 504.5L694.2 509.0L694.8 513.5L695.5 517.9L696.1 522.3L696.6 526.5L697.2 530.7L697.7 534.8L698.3 538.9L698.8 542.9L699.3 546.8L699.8 550.7L700.3 554.5L700.8 558.3L701.2 562.0L701.7 565.7L702.1 569.3L702.5 572.9L703.0 576.4L703.4 579.9L703.8 583.3L704.2 586.7L704.6 590.0L704.9 593.3L705.3 596.5L705.7 599.8L706.0 602.9L706.4 606.1L706.7 609.2L707.1 612.2L707.4 615.3L707.8 618.3L708.1 621.2L708.4 624.1L708.7 627.0L709.1 629.9L709.4 632.7L709.7 635.5L710.0 638.3L710.3 641.1L710.6 643.8L710.9 646.5L711.2 649.1L711.5 651.8L711.7 654.4L712.0 656.9L712.3 659.5L712.6 662.0L712.8 664.5" stroke="#9595d5" stroke-width="0.75"/>
<path d="M536.9 48.5L558.2 73.5L577.0 96.3L593.4 117.3L607.5 136.7L619.7 154.8L630.1 171.7L639.1 187.6L646.8 202.5L653.6 216.7L659.4 230.1L664.6 242.9L669.1 255.1L673.1 266.7L676.7 277.9L679.9 288.6L682.8 298.9L685.4 308.7L687.8 318.3L690.0 327.5L692.0 336.3L693.8 344.9L695.5 353.3L697.1 361.3L698.5 369.1L699.8 376.7L701.1 384.1L702.3 391.3L703.4 398.3L704.4 405.1L705.4 411.7L706.3 418.2L707.2 424.5L708.0 430.7L708.8 436.7L709.6 442.6L710.3 448.3L711.0 454.0L711.6 459.5L712.3 464.9L712.9 470.2L713.4 475.4L714.0 480.4L714.5 485.4L715.1 490.3L715.6 495.1L716.0 499.9L716.5 504.5L717.0 509.0L717.4 513.5L717.8 517.9L718.3 522.3L718.7 526.5L719.0 530.7L719.4 534.8L719.8 538.9L720.2 542.9L720.5 546.8L720.9 550.7L721.2 554.5L721.6 558.3L721.9 562.0L722.2 565.7L722.5 569.3L722.8 572.9L723.1 576.4L723.4 579.9L723.7 583.3L724.0 586.7L724.3 590.0L724.6 593.3L724.9 596.5L725.1 599.8L725.4 602.9L725.7 606.1L725.9 609.2L726.2 612.2L726.4 615.3L726.7 618.3L726.9 621.2L727.2 624.1L727.4 627.0L727.7 629.9L727.9 632.7L728.1 635.5L728.4 638.3L728.6 641.1L728.8 643.8L729.0 646.5L729.3 649.1L729.5 651.8L729.7 654.4L729.9 656.9L730.1 659.5L730.4 662.0L730.6 664.5" stroke="#9595d5" stroke-width="0.75"/>
<path d="M610.4 48.5L628.8 73.5L643.9 96.3L656.3 117.3L666.6 136.7L675.1 154.8L682.2 171.7L688.2 187.6L693.3 202.5L697.7 216.7L701.5 230.1L704.8 242.9L707.7 255.1L710.3 266.7L712.5 277.9L714.5 288.6L716.4 298.9L718.0 308.7L719.5 318.3L720.9 327.5L722.1 336.3L723.2 344.9L724.3 353.3L725.2 361.3L726.1 369.1L727.0 376.7L727.8 384.1L728.5 391.3L729.2 398.3L729.8 405.1L730.4 411.7L731.0 418.2L731.5 424.5L732.0 430.7L732.5 436.7L733.0 442.6L733.5 448.3L733.9 454.0L734.3 459.5L734.7 464.9L735.1 470.2L735.4 475.4L735.8 480.4L736.1 485.4L736.4 490.3L736.8 495.1L737.1 499.9L737.4 504.5L737.7 509.0L737.9 513.5L738.2 517.9L738.5 522.3L738.7 526.5L739.0 530.7L739.3 534.8L739.5 538.9L739.7 542.9L740.0 546.8L740.2 550.7L740.4 554.5L740.7 558.3L740.9 562.0L741.1 565.7L741.3 569.3L741.5 572.9L741.8 576.4L742.0 579.9L742.2 583.3L742.4 586.7L742.6 590.0L742.8 593.3L743.0 596.5L743.1 599.8L743.3 602.9L743.5 606.1L743.7 609.2L743.9 612.2L744.1 615.3L744.3 618.3L744.4 621.2L744.6 624.1L744.8 627.0L745.0 629.9L745.2 632.7L745.3 635.5L745.5 638.3L745.7 641.1L745.9 643.8L746.0 646.5L746.2 649.1L746.4 651.8L746.5 654.4L746.7 656.9L746.9 659.5L747.0 662.0L747.2 664.5" stroke="#9595d5" stroke-width="0.75"/>
<path d="M354.2 665.3L355.0 663.3L355.8 661.3L356.6 659.3L357.4 657.3L358.2 655.3L359.1 653.2L359.9 651.1L360.7 649.1L361.6 647.0L362.4 644.8L363.3 642.7L364.2 640.6L365.0 638.4L365.9 636.2L366.8 634.0L367.7 631.8L368.6 629.5L369.5 627.3L370.5 625.0L371.4 622.7L372.3 620.4L373.3 618.0L374.3 615.7L375.2 613.3L376.2 610.9L377.2 608.4L378.2 606.0L379.2 603.5L380.2 601.0L381.3 598.5L382.3 595.9L383.4 593.4L384.4 590.8L385.5 588.1L386.6 585.5L387.7 582.8L388.8 580.1L389.9 577.4L391.1 574.6L392.2 571.8L393.4 569.0L394.6 566.1L395.8 563.2L397.0 560.3L398.2 557.4L399.4 554.4L400.7 551.4L401.9 548.3L403.2 545.2L404.5 542.1L405.8 538.9L407.2 535.7L408.5 532.5L409.9 529.2L411.3 525.9L412.7 522.5L414.1 519.1L415.6 515.7L417.0 512.1L418.5 508.6L420.0 505.0L421.6 501.3L423.1 497.6L424.7 493.9L426.3 490.1L428.0 486.2L429.6 482.3L431.3 478.3L433.0 474.3L434.8 470.2" stroke="#3c9c3c" stroke-width="1.04" stroke-dasharray="1.04 1.72"/>
<path d="M415.2 665.3L415.9 663.3L416.6 661.3L417.4 659.3L418.2 657.3L418.9 655.3L419.7 653.2L420.5 651.1L421.3 649.1L422.1 647.0L422.9 644.8L423.7 642.7L424.5 640.6L425.3 638.4L426.1 636.2L427.0 634.0L427.8 631.8L428.7 629.5L429.5 627.3L430.4 625.0L431.3 622.7L432.2 620.4L433.1 618.0L434.0 615.7L434.9 613.3L435.8 610.9L436.7 608.4L437.7 606.0L438.6 603.5L439.6 601.0L440.6 598.5L441.5 595.9L442.5 593.4L443.5 590.8L444.6 588.1L445.6 585.5L446.6 582.8L447.7 580.1L448.7 577.4L449.8 574.6L450.9 571.8L452.0 569.0L453.1 566.1L454.2 563.2L455.4 560.3L456.5 557.4L457.7 554.4L458.9 551.4L460.0 548.3L461.3 545.2L462.5 542.1L463.7 538.9L465.0 535.7L466.3 532.5L467.6 529.2L468.9 525.9L470.2 522.5L471.6 519.1L472.9 515.7L474.3 512.1L475.7 508.6L477.2 505.0L478.6 501.3L480.1 497.6L481.6 493.9L483.1 490.1L484.6 486.2L486.2 482.3L487.8 478.3L489.4 474.3L491.1 470.2" stroke="#3c9c3c" stroke-width="1.04" stroke-dasharray="1.04 1.72"/>
<path d="M480.7 665.3L481.4 663.3L482.1 661.3L482.8 659.3L483.5 657.3L484.2 655.3L484.9 653.2L485.7 651.1L486.4 649.1L487.1 647.0L487.9 644.8L488.6 642.7L489.4 640.6L490.1 638.4L490.9 636.2L491.7 634.0L492.5 631.8L493.3 629.5L494.0 627.3L494.9 625.0L495.7 622.7L496.5 620.4L497.3 618.0L498.2 615.7L499.0 613.3L499.9 610.9L500.7 608.4L501.6 606.0L502.5 603.5L503.4 601.0L504.3 598.5L505.2 595.9L506.1 593.4L507.1 590.8L508.0 588.1L509.0 585.5L509.9 582.8L510.9 580.1L511.9 577.4L512.9 574.6L513.9 571.8L514.9 569.0L516.0 566.1L517.0 563.2L518.1 560.3L519.2 557.4L520.2 554.4L521.3 551.4L522.5 548.3L523.6 545.2L524.7 542.1L525.9 538.9L527.1 535.7L528.3 532.5L529.5 529.2L530.7 525.9L532.0 522.5L533.2 519.1L534.5 515.7L535.8 512.1L537.1 508.6L538.5 505.0L539.8 501.3L541.2 497.6L542.6 493.9L544.0 490.1L545.5 486.2L546.9 482.3L548.4 478.3L550.0 474.3L551.5 470.2" stroke="#3c9c3c" stroke-width="1.04" stroke-dasharray="1.04 1.72"/>
<path d="M521.4 665.3L522.0 663.3L522.7 661.3L523.4 659.3L524.0 657.3L524.7 655.3L525.4 653.2L526.1 651.1L526.8 649.1L527.5 647.0L528.2 644.8L528.9 642.7L529.6 640.6L530.3 638.4L531.0 636.2L531.8 634.0L532.5 631.8L533.3 629.5L534.0 627.3L534.8 625.0L535.6 622.7L536.4 620.4L537.2 618.0L538.0 615.7L538.8 613.3L539.6 610.9L540.4 608.4L541.2 606.0L542.1 603.5L542.9 601.0L543.8 598.5L544.7 595.9L545.5 593.4L546.4 590.8L547.3 588.1L548.2 585.5L549.2 582.8L550.1 580.1L551.0 577.4L552.0 574.6L552.9 571.8L553.9 569.0L554.9 566.1L555.9 563.2L556.9 560.3L558.0 557.4L559.0 554.4L560.0 551.4L561.1 548.3L562.2 545.2L563.3 542.1L564.4 538.9L565.5 535.7L566.7 532.5L567.8 529.2L569.0 525.9L570.2 522.5L571.4 519.1L572.6 515.7L573.9 512.1L575.1 508.6L576.4 505.0L577.7 501.3L579.0 497.6L580.4 493.9L581.7 490.1L583.1 486.2L584.5 482.3L586.0 478.3L587.4 474.3L588.9 470.2" stroke="#3c9c3c" stroke-width="1.04" stroke-dasharray="1.04 1.72"/>
<path d="M551.3 665.3L551.9 663.3L552.6 661.3L553.2 659.3L553.8 657.3L554.5 655.3L555.1 653.2L555.8 651.1L556.5 649.1L557.1 647.0L557.8 644.8L558.5 642.7L559.2 640.6L559.9 638.4L560.6 636.2L561.3 634.0L562.0 631.8L562.7 629.5L563.5 627.3L564.2 625.0L564.9 622.7L565.7 620.4L566.5 618.0L567.2 615.7L568.0 613.3L568.8 610.9L569.6 608.4L570.4 606.0L571.2 603.5L572.0 601.0L572.8 598.5L573.7 595.9L574.5 593.4L575.4 590.8L576.2 588.1L577.1 585.5L578.0 582.8L578.9 580.1L579.8 577.4L580.7 574.6L581.7 571.8L582.6 569.0L583.6 566.1L584.5 563.2L585.5 560.3L586.5 557.4L587.5 554.4L588.5 551.4L589.5 548.3L590.6 545.2L591.6 542.1L592.7 538.9L593.8 535.7L594.9 532.5L596.0 529.2L597.1 525.9L598.3 522.5L599.4 519.1L600.6 515.7L601.8 512.1L603.0 508.6L604.3 505.0L605.5 501.3L606.8 497.6L608.1 493.9L609.4 490.1L610.8 486.2L612.1 482.3L613.5 478.3L614.9 474.3L616.4 470.2" stroke="#3c9c3c" stroke-width="1.04" stroke-dasharray="1.04 1.72"/>
<path d="M575.1 665.3L575.8 663.3L576.4 661.3L577.0 659.3L577.6 657.3L578.2 655.3L578.8 653.2L579.5 651.1L580.1 649.1L580.8 647.0L581.4 644.8L582.1 642.7L582.8 640.6L583.4 638.4L584.1 636.2L584.8 634.0L585.5 631.8L586.2 629.5L586.9 627.3L587.6 625.0L588.3 622.7L589.1 620.4L589.8 618.0L590.5 615.7L591.3 613.3L592.0 610.9L592.8 608.4L593.6 606.0L594.4 603.5L595.2 601.0L596.0 598.5L596.8 595.9L597.6 593.4L598.4 590.8L599.3 588.1L600.1 585.5L601.0 582.8L601.8 580.1L602.7 577.4L603.6 574.6L604.5 571.8L605.4 569.0L606.3 566.1L607.3 563.2L608.2 560.3L609.2 557.4L610.2 554.4L611.1 551.4L612.1 548.3L613.2 545.2L614.2 542.1L615.2 538.9L616.3 535.7L617.3 532.5L618.4 529.2L619.5 525.9L620.6 522.5L621.8 519.1L622.9 515.7L624.1 512.1L625.3 508.6L626.5 505.0L627.7 501.3L628.9 497.6L630.2 493.9L631.5 490.1L632.8 486.2L634.1 482.3L635.5 478.3L636.8 474.3L638.2 470.2" stroke="#3c9c3c" stroke-width="1.04" stroke-dasharray="1.04 1.72"/>
<path d="M603.9 665.3L604.5 663.3L605.0 661.3L605.6 659.3L606.2 657.3L606.8 655.3L607.4 653.2L608.0 651.1L608.6 649.1L609.3 647.0L609.9 644.8L610.5 642.7L611.2 640.6L611.8 638.4L612.5 636.2L613.1 634.0L613.8 631.8L614.4 629.5L615.1 627.3L615.8 625.0L616.5 622.7L617.2 620.4L617.9 618.0L618.6 615.7L619.3 613.3L620.1 610.9L620.8 608.4L621.6 606.0L622.3 603.5L623.1 601.0L623.8 598.5L624.6 595.9L625.4 593.4L626.2 590.8L627.0 588.1L627.8 585.5L628.6 582.8L629.5 580.1L630.3 577.4L631.2 574.6L632.0 571.8L632.9 569.0L633.8 566.1L634.7 563.2L635.6 560.3L636.5 557.4L637.5 554.4L638.4 551.4L639.4 548.3L640.4 545.2L641.3 542.1L642.3 538.9L643.4 535.7L644.4 532.5L645.4 529.2L646.5 525.9L647.6 522.5L648.7 519.1L649.8 515.7L650.9 512.1L652.0 508.6L653.2 505.0L654.4 501.3L655.6 497.6L656.8 493.9L658.0 490.1L659.3 486.2L660.6 482.3L661.9 478.3L663.2 474.3L664.5 470.2" stroke="#3c9c3c" stroke-width="1.04" stroke-dasharray="1.04 1.72"/>
<path d="M627.2 665.3L627.7 663.3L628.3 661.3L628.8 659.3L629.4 657.3L630.0 655.3L630.6 653.2L631.1 651.1L631.7 649.1L632.3 647.0L632.9 644.8L633.6 642.7L634.2 640.6L634.8 638.4L635.4 636.2L636.1 634.0L636.7 631.8L637.3 629.5L638.0 627.3L638.7 625.0L639.3 622.7L640.0 620.4L640.7 618.0L641.4 615.7L642.1 613.3L642.8 610.9L643.5 608.4L644.2 606.0L644.9 603.5L645.7 601.0L646.4 598.5L647.1 595.9L647.9 593.4L648.7 590.8L649.5 588.1L650.2 585.5L651.0 582.8L651.9 580.1L652.7 577.4L653.5 574.6L654.3 571.8L655.2 569.0L656.0 566.1L656.9 563.2L657.8 560.3L658.7 557.4L659.6 554.4L660.5 551.4L661.4 548.3L662.4 545.2L663.3 542.1L664.3 538.9L665.3 535.7L666.3 532.5L667.3 529.2L668.3 525.9L669.4 522.5L670.4 519.1L671.5 515.7L672.6 512.1L673.7 508.6L674.8 505.0L676.0 501.3L677.1 497.6L678.3 493.9L679.5 490.1L680.7 486.2L682.0 482.3L683.2 478.3L684.5 474.3L685.8 470.2" stroke="#3c9c3c" stroke-width="1.04" stroke-dasharray="1.04 1.72"/>
<path d="M652.7 665.3L653.2 663.3L653.8 661.3L654.3 659.3L654.8 657.3L655.4 655.3L655.9 653.2L656.5 651.1L657.1 649.1L657.6 647.0L658.2 644.8L658.8 642.7L659.4 640.6L660.0 638.4L660.6 636.2L661.2 634.0L661.8 631.8L662.4 629.5L663.1 627.3L663.7 625.0L664.3 622.7L665.0 620.4L665.6 618.0L666.3 615.7L667.0 613.3L667.6 610.9L668.3 608.4L669.0 606.0L669.7 603.5L670.4 601.0L671.1 598.5L671.9 595.9L672.6 593.4L673.3 590.8L674.1 588.1L674.8 585.5L675.6 582.8L676.4 580.1L677.2 577.4L678.0 574.6L678.8 571.8L679.6 569.0L680.4 566.1L681.2 563.2L682.1 560.3L683.0 557.4L683.8 554.4L684.7 551.4L685.6 548.3L686.5 545.2L687.4 542.1L688.4 538.9L689.3 535.7L690.3 532.5L691.2 529.2L692.2 525.9L693.2 522.5L694.3 519.1L695.3 515.7L696.4 512.1L697.4 508.6L698.5 505.0L699.6 501.3L700.7 497.6L701.9 493.9L703.0 490.1L704.2 486.2L705.4 482.3L706.6 478.3L707.9 474.3L709.1 470.2" stroke="#3c9c3c" stroke-width="1.04" stroke-dasharray="1.04 1.72"/>
<path d="M673.9 665.3L674.4 663.3L675.0 661.3L675.5 659.3L676.0 657.3L676.5 655.3L677.1 653.2L677.6 651.1L678.2 649.1L678.7 647.0L679.3 644.8L679.8 642.7L680.4 640.6L681.0 638.4L681.5 636.2L682.1 634.0L682.7 631.8L683.3 629.5L683.9 627.3L684.5 625.0L685.2 622.7L685.8 620.4L686.4 618.0L687.0 615.7L687.7 613.3L688.3 610.9L689.0 608.4L689.7 606.0L690.3 603.5L691.0 601.0L691.7 598.5L692.4 595.9L693.1 593.4L693.8 590.8L694.6 588.1L695.3 585.5L696.0 582.8L696.8 580.1L697.5 577.4L698.3 574.6L699.1 571.8L699.9 569.0L700.7 566.1L701.5 563.2L702.3 560.3L703.1 557.4L704.0 554.4L704.8 551.4L705.7 548.3L706.6 545.2L707.5 542.1L708.4 538.9L709.3 535.7L710.2 532.5L711.2 529.2L712.1 525.9L713.1 522.5L714.1 519.1L715.1 515.7L716.1 512.1L717.2 508.6L718.2 505.0L719.3 501.3L720.4 497.6L721.5 493.9L722.6 490.1L723.7 486.2L724.9 482.3L726.1 478.3L727.3 474.3L728.5 470.2" stroke="#3c9c3c" stroke-width="1.04" stroke-dasharray="1.04 1.72"/>
<path d="M700.4 665.3L700.9 663.3L701.4 661.3L701.8 659.3L702.3 657.3L702.9 655.3L703.4 653.2L703.9 651.1L704.4 649.1L704.9 647.0L705.4 644.8L706.0 642.7L706.5 640.6L707.1 638.4L707.6 636.2L708.2 634.0L708.7 631.8L709.3 629.5L709.9 627.3L710.5 625.0L711.1 622.7L711.7 620.4L712.3 618.0L712.9 615.7L713.5 613.3L714.1 610.9L714.7 608.4L715.4 606.0L716.0 603.5L716.7 601.0L717.3 598.5L718.0 595.9L718.7 593.4L719.3 590.8L720.0 588.1L720.7 585.5L721.4 582.8L722.2 580.1L722.9 577.4L723.6 574.6L724.4 571.8L725.1 569.0L725.9 566.1L726.7 563.2L727.5 560.3L728.3 557.4L729.1 554.4L729.9 551.4L730.7 548.3L731.6 545.2L732.4 542.1L733.3 538.9L734.2 535.7L735.0 532.5L736.0 529.2L736.9 525.9L737.8 522.5L738.8 519.1L739.7 515.7L740.7 512.1L741.7 508.6L742.7 505.0L743.7 501.3L744.8 497.6L745.8 493.9L746.9 490.1L748.0 486.2L749.1 482.3L750.3 478.3L751.5 474.3L752.6 470.2" stroke="#3c9c3c" stroke-width="1.04" stroke-dasharray="1.04 1.72"/>
<path d="M722.3 665.3L722.8 663.3L723.3 661.3L723.7 659.3L724.2 657.3L724.7 655.3L725.2 653.2L725.7 651.1L726.2 649.1L726.7 647.0L727.2 644.8L727.7 642.7L728.2 640.6L728.7 638.4L729.3 636.2L729.8 634.0L730.3 631.8L730.9 629.5L731.4 627.3L732.0 625.0L732.6 622.7L733.1 620.4L733.7 618.0L734.3 615.7L734.9 613.3L735.5 610.9L736.1 608.4L736.7 606.0L737.3 603.5L737.9 601.0L738.6 598.5L739.2 595.9L739.9 593.4L740.5 590.8L741.2 588.1L741.8 585.5L742.5 582.8L743.2 580.1L743.9 577.4L744.6 574.6L745.3 571.8L746.1 569.0L746.8 566.1L747.6 563.2L748.3 560.3L749.1 557.4L749.9 554.4L750.6 551.4L751.4 548.3L752.3 545.2L753.1 542.1L753.9 538.9L754.8 535.7L755.6 532.5L756.5 529.2L757.4 525.9L758.3 522.5L759.2 519.1L760.1 515.7L761.1 512.1L762.0 508.6L763.0 505.0L764.0 501.3L765.0 497.6L766.0 493.9L767.1 490.1L768.2 486.2L769.2 482.3L770.3 478.3L771.5 474.3L772.6 470.2" stroke="#3c9c3c" stroke-width="1.04" stroke-dasharray="1.04 1.72"/>
</g>
<text x="434.8" y="468.4" font-size="8.3" fill="#5aaa5a" text-anchor="middle">1</text>
<text x="491.1" y="468.4" font-size="8.3" fill="#5aaa5a" text-anchor="middle">2</text>
<text x="551.5" y="468.4" font-size="8.3" fill="#5aaa5a" text-anchor="middle">4</text>
<text x="588.9" y="468.4" font-size="8.3" fill="#5aaa5a" text-anchor="middle">6</text>
<text x="616.4" y="468.4" font-size="8.3" fill="#5aaa5a" text-anchor="middle">8</text>
<text x="638.2" y="468.4" font-size="8.3" fill="#5aaa5a" text-anchor="middle">10</text>
<text x="664.5" y="468.4" font-size="8.3" fill="#5aaa5a" text-anchor="middle">13</text>
<text x="685.8" y="468.4" font-size="8.3" fill="#5aaa5a" text-anchor="middle">16</text>
<text x="709.1" y="468.4" font-size="8.3" fill="#5aaa5a" text-anchor="middle">20</text>
<text x="728.5" y="468.4" font-size="8.3" fill="#5aaa5a" text-anchor="middle">24</text>
<text x="752.6" y="468.4" font-size="8.3" fill="#5aaa5a" text-anchor="middle">30</text>
<text x="772.6" y="468.4" font-size="8.3" fill="#5aaa5a" text-anchor="middle">36</text>
<g clip-path="url(#cm)">
<path d="M463.1 48.5L454.4 107.0L442.0 154.8L421.4 195.2L403.6 230.1L407.0 261.0L415.4 288.6L419.9 313.6L424.4 336.3L429.5 357.3L436.4 376.7L443.9 394.8L451.4 411.7L458.0 427.6L460.7 442.6L462.7 456.7L467.1 470.2L472.0 483.0L479.2 495.1L485.0 506.8L488.9 517.9L490.8 528.6L491.4 538.9L491.4 548.8L492.0 558.3L495.3 567.5L499.7 576.4L510.6 585.0L519.8 593.3L528.3 601.4L534.4 609.2L537.1 616.8L538.3 624.1L540.6 631.3L542.9 638.3L545.0 645.1L533.6 649.8" stroke="#0000ff" stroke-width="1.3" fill="none" stroke-linejoin="round"/>
<path d="M306.5 48.5L276.0 107.0L262.5 154.8L269.4 195.2L291.8 230.1L293.0 261.0L288.8 288.6L276.0 313.6L270.3 336.3L273.0 357.3L264.0 376.7L271.5 394.8L256.2 411.7L230.1 427.6L252.9 442.6L338.9 456.7L373.4 470.2L393.5 483.0L377.9 495.1L359.3 506.8L318.5 517.9L267.0 528.6L227.4 538.9L200.4 548.8L222.0 558.3L371.9 567.5L440.0 576.4L483.2 585.0L507.1 593.3L517.7 601.4L519.1 609.2L515.9 616.8L508.8 624.1L503.5 631.3L500.4 638.3L500.9 645.1L523.3 649.8" stroke="#069806" stroke-width="2.95" fill="none" stroke-linejoin="round"/>
<path d="M464.9 48.5L456.2 107.0L443.9 154.8L423.3 195.2L405.5 230.1L409.4 261.0L419.0 288.6L425.0 313.6L430.7 336.3L437.3 357.3L446.3 376.7L456.2 394.8L467.0 411.7L477.5 427.6L482.8 442.6L482.3 456.7L486.2 470.2L491.6 483.0L505.4 495.1L518.9 506.8L530.6 517.9L537.8 528.6L542.2 538.9L545.1 548.8L547.9 558.3L542.4 567.5L533.0 576.4L526.1 585.0L528.6 593.3L537.5 601.4L547.7 609.2L557.4 616.8L566.2 624.1L575.0 631.3L583.9 638.3L589.0 645.1L544.5 649.8" stroke="#ff0000" stroke-width="2.95" fill="none" stroke-linejoin="round"/>
</g>
<g stroke="#000" stroke-width="1.12" fill="none">
<rect x="188.5" y="49.5" width="638" height="616"/>
<path d="M188.5 49.50h-4.9M826.5 49.50h4.9M188.5 155.50h-4.9M826.5 155.50h4.9M188.5 230.50h-4.9M826.5 230.50h4.9M188.5 289.50h-4.9M826.5 289.50h4.9M188.5 336.50h-4.9M826.5 336.50h4.9M188.5 377.50h-4.9M826.5 377.50h4.9M188.5 412.50h-4.9M826.5 412.50h4.9M188.5 443.50h-4.9M826.5 443.50h4.9M188.5 470.50h-4.9M826.5 470.50h4.9M188.5 495.50h-4.9M826.5 495.50h4.9M188.5 518.50h-4.9M826.5 518.50h4.9M188.5 539.50h-4.9M826.5 539.50h4.9M188.5 558.50h-4.9M826.5 558.50h4.9M188.5 576.50h-4.9M826.5 576.50h4.9M188.5 593.50h-4.9M826.5 593.50h4.9M188.5 609.50h-4.9M826.5 609.50h4.9M188.5 624.50h-4.9M826.5 624.50h4.9M188.5 638.50h-4.9M826.5 638.50h4.9M188.5 652.50h-4.9M826.5 652.50h4.9M188.5 665.50h-4.9M826.5 665.50h4.9M188.50 665.5v4.9M188.50 49.5v-4.9M259.50 665.5v4.9M259.50 49.5v-4.9M330.50 665.5v4.9M330.50 49.5v-4.9M400.50 665.5v4.9M400.50 49.5v-4.9M471.50 665.5v4.9M471.50 49.5v-4.9M542.50 665.5v4.9M542.50 49.5v-4.9M613.50 665.5v4.9M613.50 49.5v-4.9M684.50 665.5v4.9M684.50 49.5v-4.9M755.50 665.5v4.9M755.50 49.5v-4.9M826.50 665.5v4.9M826.50 49.5v-4.9"/>
</g>
<g font-size="13.2" fill="#000">
<text x="177.4" y="53.8" text-anchor="end">100</text>
<text x="177.4" y="235.4" text-anchor="end">200</text>
<text x="177.4" y="341.6" text-anchor="end">300</text>
<text x="177.4" y="417.0" text-anchor="end">400</text>
<text x="177.4" y="475.5" text-anchor="end">500</text>
<text x="177.4" y="523.2" text-anchor="end">600</text>
<text x="177.4" y="563.6" text-anchor="end">700</text>
<text x="177.4" y="598.6" text-anchor="end">800</text>
<text x="177.4" y="629.4" text-anchor="end">900</text>
<text x="177.4" y="657.0" text-anchor="end">1000</text>
<text x="188.3" y="684.9" text-anchor="middle">−40</text>
<text x="259.2" y="684.9" text-anchor="middle">−30</text>
<text x="330.1" y="684.9" text-anchor="middle">−20</text>
<text x="400.9" y="684.9" text-anchor="middle">−10</text>
<text x="471.8" y="684.9" text-anchor="middle">0</text>
<text x="542.7" y="684.9" text-anchor="middle">10</text>
<text x="613.6" y="684.9" text-anchor="middle">20</text>
<text x="684.5" y="684.9" text-anchor="middle">30</text>
<text x="755.4" y="684.9" text-anchor="middle">40</text>
<text x="826.3" y="684.9" text-anchor="middle">50</text>
</g>
<text x="506.5" y="705.6" font-size="16.6" text-anchor="middle">Temperature (°C)</text>
<text transform="translate(133.4 356.3) rotate(-90)" font-size="16.6" text-anchor="middle">Pressure (hPa)</text>
<text x="507.2" y="39.7" font-size="13.89" font-weight="bold" text-anchor="middle">HRRR Sounding at KDKB Init: 07z Oct 08 [F001] valid 08z Oct 08 2025</text>
<text x="510.8" y="660.4" font-size="11.1" font-weight="bold" fill="#069806">42F</text>
<text x="534.6" y="660.4" font-size="11.1" font-weight="bold" fill="#ff0000">48F</text>
<rect x="42.3" y="63.2" width="128.2" height="97" rx="2.5" fill="#fff" fill-opacity="0.8" stroke="#ccc" stroke-width="1.1"/>
<path d="M46.8 72.5H70.0" stroke="#3c9c3c" stroke-width="1.04" stroke-dasharray="1.04 1.72"/>
<text x="78.1" y="75.9" font-size="10.95">Sat. Mix. Ratio</text>
<path d="M46.8 87.4H70.0" stroke="#d39292" stroke-width="0.75" />
<text x="78.1" y="90.8" font-size="10.95">Dry Adiabats</text>
<path d="M46.8 103.4H70.0" stroke="#9595d5" stroke-width="0.75" />
<text x="78.1" y="106.6" font-size="10.95">Pseudoadiabats</text>
<path d="M46.9 119.4H70.1" stroke="#0000ff" stroke-width="1.2" />
<text x="78.1" y="122.1" font-size="10.95">Wetbulb</text>
<path d="M46.0 134.5H70.9" stroke="#069806" stroke-width="2.8" />
<text x="78.1" y="137.8" font-size="10.95">Dewpoint</text>
<path d="M46.0 150.5H70.9" stroke="#ff0000" stroke-width="2.8" />
<text x="78.1" y="153.8" font-size="10.95">Temperature</text>
<g>
<rect x="38" y="49" width="4" height="3" fill="#efe000"/>
<rect x="38" y="104" width="6" height="6" fill="#f9d71e"/>
<rect x="38" y="151" width="1" height="7" fill="#f5e010"/>
<rect x="35" y="192" width="3" height="6" fill="#808080"/>
<rect x="33" y="227" width="5" height="6" fill="#808080"/>
<rect x="35" y="258" width="3" height="6" fill="#808080"/>
<rect x="32" y="285" width="6" height="7" fill="#808080"/>
<rect x="30" y="310" width="8" height="7" fill="#808080"/>
<rect x="29" y="333" width="9" height="6" fill="#808080"/>
<rect x="30" y="354" width="8" height="6" fill="#808080"/>
<rect x="30" y="373" width="8" height="7" fill="#808080"/>
<rect x="31" y="391" width="7" height="7" fill="#808080"/>
<rect x="32" y="408" width="6" height="7" fill="#808080"/>
<rect x="35" y="424" width="3" height="7" fill="#808080"/>
<rect x="37" y="439" width="1" height="7" fill="#808080"/>
<rect x="36" y="492" width="2" height="6" fill="#808080"/>
<rect x="35" y="503" width="3" height="7" fill="#808080"/>
<rect x="33" y="514" width="5" height="7" fill="#808080"/>
<rect x="33" y="525" width="5" height="7" fill="#808080"/>
<rect x="33" y="535" width="5" height="7" fill="#808080"/>
<rect x="33" y="545" width="5" height="7" fill="#808080"/>
<rect x="32" y="555" width="6" height="6" fill="#808080"/>
<rect x="31" y="564" width="7" height="7" fill="#808080"/>
<rect x="30" y="573" width="8" height="6" fill="#808080"/>
<rect x="30" y="582" width="8" height="6" fill="#808080"/>
<rect x="29" y="590" width="9" height="6" fill="#808080"/>
<rect x="29" y="598" width="9" height="6" fill="#808080"/>
<rect x="29" y="606" width="9" height="6" fill="#808080"/>
<rect x="30" y="613" width="8" height="7" fill="#808080"/>
<rect x="33" y="621" width="5" height="6" fill="#808080"/>
<rect x="34" y="628" width="4" height="6" fill="#808080"/>
<rect x="34" y="635" width="4" height="6" fill="#808080"/>
<rect x="32" y="642" width="6" height="6" fill="#808080"/>
<rect x="38" y="453" width="2" height="7" fill="#f0e800"/>
<rect x="38" y="467" width="2" height="6" fill="#f0e800"/>
</g>
<path d="M23.3 469.4H98.7" stroke="#ff0000" stroke-width="2.7" stroke-dasharray="8.4 3.15"/>
<path d="M23.3 498.6H98.7" stroke="#ff0000" stroke-width="2.7" stroke-dasharray="8.4 3.15"/>
<text x="73.9" y="463.8" font-size="11.1" font-weight="bold" fill="#ff0000">DGZ</text>
<text x="73.9" y="510.7" font-size="11.1" font-weight="bold" fill="#ff0000">DGZ</text>
<path d="M38.5 665.5v4.9M69.5 665.5v4.9M100.5 665.5v4.9" stroke="#000" stroke-width="1.1"/>
<g font-size="10.4" text-anchor="middle"><text x="39.1" y="682.3">0</text><text x="69.2" y="682.3">−1</text><text x="100.2" y="682.3">−2</text></g>
<text x="69.8" y="702.7" font-size="13.9" text-anchor="middle">Omega (Pa/s)</text>
<path d="M859.4 51.4L835.2 45.3M835.2 45.3L834.6 34.9M838.2 46.1L837.6 35.6M841.2 46.8L840.9 41.6" stroke="#000" stroke-width="0.95" fill="none" stroke-linecap="square"/>
<path d="M859.4 110.1L835.2 103.5M835.2 103.5L834.9 93.0M838.3 104.3L837.9 93.9M841.3 105.2L840.9 94.7M844.3 106.0L843.9 95.5" stroke="#000" stroke-width="0.95" fill="none" stroke-linecap="square"/>
<path d="M859.4 157.7L835.2 151.5M844.3 153.8L844.0 148.6" stroke="#000" stroke-width="0.95" fill="none" stroke-linecap="square"/><path d="M835.2 151.5L840.7 142.6L841.2 153.0 Z" fill="#000" stroke="#000" stroke-width="0.9" stroke-linejoin="miter"/>
<path d="M859.1 199.1L835.5 190.8M844.4 193.9L844.5 188.7" stroke="#000" stroke-width="0.95" fill="none" stroke-linecap="square"/><path d="M835.5 190.8L841.8 182.4L841.4 192.9 Z" fill="#000" stroke="#000" stroke-width="0.9" stroke-linejoin="miter"/>
<path d="M859.0 234.4L835.6 225.4M844.4 228.8L845.1 218.3M847.3 229.9L847.6 224.7" stroke="#000" stroke-width="0.95" fill="none" stroke-linecap="square"/><path d="M835.6 225.4L842.2 217.2L841.5 227.7 Z" fill="#000" stroke="#000" stroke-width="0.9" stroke-linejoin="miter"/>
<path d="M859.2 264.6L835.4 257.0M844.3 259.8L844.4 249.4" stroke="#000" stroke-width="0.95" fill="none" stroke-linecap="square"/><path d="M835.4 257.0L841.4 248.4L841.3 258.9 Z" fill="#000" stroke="#000" stroke-width="0.9" stroke-linejoin="miter"/>
<path d="M857.2 296.1L837.4 280.7M844.8 286.5L848.5 276.7M847.3 288.4L849.1 283.5" stroke="#000" stroke-width="0.95" fill="none" stroke-linecap="square"/><path d="M837.4 280.7L846.1 274.7L842.4 284.5 Z" fill="#000" stroke="#000" stroke-width="0.9" stroke-linejoin="miter"/>
<path d="M857.0 321.3L837.6 305.4M844.9 311.4L848.8 301.7M847.3 313.4L851.2 303.6" stroke="#000" stroke-width="0.95" fill="none" stroke-linecap="square"/><path d="M837.6 305.4L846.4 299.7L842.5 309.4 Z" fill="#000" stroke="#000" stroke-width="0.9" stroke-linejoin="miter"/>
<path d="M857.1 343.9L837.5 328.4M844.9 334.2L848.6 324.4M847.3 336.1L849.2 331.3" stroke="#000" stroke-width="0.95" fill="none" stroke-linecap="square"/><path d="M837.5 328.4L846.2 322.5L842.4 332.3 Z" fill="#000" stroke="#000" stroke-width="0.9" stroke-linejoin="miter"/>
<path d="M856.9 365.1L837.7 349.1M844.9 355.1L848.9 345.4" stroke="#000" stroke-width="0.95" fill="none" stroke-linecap="square"/><path d="M837.7 349.1L846.5 343.4L842.5 353.1 Z" fill="#000" stroke="#000" stroke-width="0.9" stroke-linejoin="miter"/>
<path d="M857.0 384.4L837.6 368.6M844.9 374.6L846.8 369.7" stroke="#000" stroke-width="0.95" fill="none" stroke-linecap="square"/><path d="M837.6 368.6L846.4 362.9L842.5 372.6 Z" fill="#000" stroke="#000" stroke-width="0.9" stroke-linejoin="miter"/>
<path d="M857.4 401.9L837.2 387.3" stroke="#000" stroke-width="0.95" fill="none" stroke-linecap="square"/><path d="M837.2 387.3L845.6 381.0L842.2 390.9 Z" fill="#000" stroke="#000" stroke-width="0.9" stroke-linejoin="miter"/>
<path d="M857.8 418.3L836.8 404.8M836.8 404.8L839.5 394.7M839.4 406.5L842.2 396.3M842.0 408.1L844.8 398.0M844.7 409.8L847.4 399.7M847.3 411.5L848.7 406.5" stroke="#000" stroke-width="0.95" fill="none" stroke-linecap="square"/>
<path d="M857.9 448.9L836.7 435.8M836.7 435.8L839.3 425.6M839.3 437.4L841.9 427.3M842.0 439.1L844.6 428.9M844.6 440.7L847.2 430.6M847.3 442.4L848.6 437.3" stroke="#000" stroke-width="0.95" fill="none" stroke-linecap="square"/>
<path d="M858.0 476.4L836.6 463.5M836.6 463.5L839.1 453.3M839.3 465.1L841.8 454.9M841.9 466.7L844.4 456.6M844.6 468.4L845.9 463.3" stroke="#000" stroke-width="0.95" fill="none" stroke-linecap="square"/>
<path d="M858.0 501.4L836.6 488.5M836.6 488.5L839.1 478.3M839.3 490.1L841.8 479.9M841.9 491.7L844.4 481.5M844.6 493.3L845.9 488.2" stroke="#000" stroke-width="0.95" fill="none" stroke-linecap="square"/>
<path d="M857.2 525.4L837.4 510.0M837.4 510.0L841.1 500.2M839.9 512.0L843.6 502.2M842.4 513.9L846.1 504.1" stroke="#000" stroke-width="0.95" fill="none" stroke-linecap="square"/>
<path d="M855.4 548.3L839.2 529.1M839.2 529.1L844.9 520.3M841.3 531.5L846.9 522.7M843.3 533.9L846.1 529.5" stroke="#000" stroke-width="0.95" fill="none" stroke-linecap="square"/>
<path d="M854.8 568.1L839.8 548.1M839.8 548.1L846.0 539.6M841.7 550.6L847.9 542.1" stroke="#000" stroke-width="0.95" fill="none" stroke-linecap="square"/>
<path d="M856.8 584.3L837.8 568.1M837.8 568.1L841.9 558.4M840.2 570.1L844.3 560.5" stroke="#000" stroke-width="0.95" fill="none" stroke-linecap="square"/>
<path d="M857.2 600.7L837.4 585.4M837.4 585.4L841.1 575.6M839.9 587.4L841.7 582.4" stroke="#000" stroke-width="0.95" fill="none" stroke-linecap="square"/>
<path d="M855.0 618.9L839.6 599.1M839.6 599.1L845.6 590.5M841.6 601.6L844.5 597.3" stroke="#000" stroke-width="0.95" fill="none" stroke-linecap="square"/>
<path d="M844.3 643.3L850.3 619.0M850.3 619.0L860.7 618.3" stroke="#000" stroke-width="0.95" fill="none" stroke-linecap="square"/>
<path d="M851.0 662.0L843.6 638.2M845.0 642.6L849.3 639.7" stroke="#000" stroke-width="0.95" fill="none" stroke-linecap="square"/>
<text x="987.1" y="35.7" font-size="15.22" font-weight="bold" fill="#808080" text-anchor="middle">TROPICALTIDBITS.COM</text>
<g clip-path="url(#ch)" fill="none">
<ellipse cx="905.5" cy="98.5" rx="29.5" ry="25.5" stroke="#7c7c7c" stroke-width="0.75" stroke-dasharray="0.75 1.5"/>
<ellipse cx="905.5" cy="98.5" rx="59.0" ry="51.0" stroke="#7c7c7c" stroke-width="0.75" stroke-dasharray="0.75 1.5"/>
<ellipse cx="905.5" cy="98.5" rx="88.4" ry="76.5" stroke="#7c7c7c" stroke-width="0.75" stroke-dasharray="0.75 1.5"/>
<ellipse cx="905.5" cy="98.5" rx="117.9" ry="102.0" stroke="#7c7c7c" stroke-width="0.75" stroke-dasharray="0.75 1.5"/>
<ellipse cx="905.5" cy="98.5" rx="147.4" ry="127.5" stroke="#7c7c7c" stroke-width="0.75" stroke-dasharray="0.75 1.5"/>
<ellipse cx="905.5" cy="98.5" rx="176.9" ry="153.0" stroke="#7c7c7c" stroke-width="0.75" stroke-dasharray="0.75 1.5"/>
<ellipse cx="905.5" cy="98.5" rx="206.4" ry="178.5" stroke="#7c7c7c" stroke-width="0.75" stroke-dasharray="0.75 1.5"/>
<ellipse cx="905.5" cy="98.5" rx="235.8" ry="204.0" stroke="#7c7c7c" stroke-width="0.75" stroke-dasharray="0.75 1.5"/>
<ellipse cx="905.5" cy="98.5" rx="265.3" ry="229.5" stroke="#7c7c7c" stroke-width="0.75" stroke-dasharray="0.75 1.5"/>
<ellipse cx="905.5" cy="98.5" rx="294.8" ry="255.0" stroke="#7c7c7c" stroke-width="0.75" stroke-dasharray="0.75 1.5"/>
<ellipse cx="905.5" cy="98.5" rx="324.3" ry="280.5" stroke="#7c7c7c" stroke-width="0.75" stroke-dasharray="0.75 1.5"/>
<path d="M905.5 49.5V237.5M876.5 98.5H1096.5" stroke="#000" stroke-width="0.8"/>
</g>
<g font-size="10.4" fill="#808080" text-anchor="middle">
<text x="934.8" y="115.9">10</text>
<text x="964.8" y="115.9">20</text>
<text x="994.8" y="115.9">30</text>
<text x="1023.8" y="115.9">40</text>
<text x="1053.7" y="115.9">50</text>
<text x="1083.7" y="115.9">60</text>
</g>
<g clip-path="url(#ch)" fill="none" stroke-linejoin="round" stroke-linecap="butt">
<path d="M909.1 109.2L905.1 118.1L900.9 125.5L896.7 136.3L895.3 134L895.5 129.3L899 125.1L902.8 122.7L908.4 122.5L914.9 122.3L922.4 123.2L927.1 123.5L933.6 122L939.3 121.3L942.8 122.3L945.8 127L947.2 130.2L944.9 135.8L941.1 140.5" stroke="#ff0000" stroke-width="1.75"/>
<path d="M941.1 140.5L945.3 143.05L953.7 144.5L963.1 145.1L972.4 144.6L981.8 143.5L992.5 141.7L999.5 147.9L1005.6 152.1L1009.8 153.2" stroke="#0f8a0f" stroke-width="2.1"/>
<path d="M1009.8 153.2L1014.2 155L1018 156.5L1021.7 161.9L1024.7 174.5L1031.5 192L1040.9 197.4L1048.1 201L1052.6 201.2" stroke="#bb12bb" stroke-width="2.1"/>
<path d="M1059.8 209.4L1052.4 201L1075.6 144.4L1089.3 155.6" stroke="#0000ff" stroke-width="2.35" stroke-linejoin="miter"/>
</g>
<rect x="907.9" y="117.6" width="7.2" height="8.4" fill="#fff"/>
<text x="911.5" y="125.6" font-size="10.4" text-anchor="middle">1</text>
<rect x="939.2" y="118.1" width="7.2" height="8.4" fill="#fff"/>
<text x="942.8" y="126.1" font-size="10.4" text-anchor="middle">2</text>
<rect x="937.5" y="136.3" width="7.2" height="8.4" fill="#fff"/>
<text x="941.1" y="144.3" font-size="10.4" text-anchor="middle">3</text>
<rect x="1006.2" y="149.0" width="7.2" height="8.4" fill="#fff"/>
<text x="1009.8" y="157.0" font-size="10.4" text-anchor="middle">6</text>
<rect x="1049.0" y="197.0" width="7.2" height="8.4" fill="#fff"/>
<text x="1052.6" y="205.0" font-size="10.4" text-anchor="middle">9</text>
<ellipse cx="959.3" cy="100.2" rx="8.65" ry="7.55" fill="none" stroke="#000" stroke-width="1.55"/>
<text x="959.5" y="103.6" font-size="9.3" text-anchor="middle" textLength="9.6" lengthAdjust="spacingAndGlyphs">LM</text>
<ellipse cx="919.4" cy="166.2" rx="8.65" ry="7.55" fill="none" stroke="#000" stroke-width="1.55"/>
<text x="919.6" y="169.6" font-size="9.3" text-anchor="middle" textLength="9.6" lengthAdjust="spacingAndGlyphs">RM</text>
<rect x="876.5" y="49.5" width="220" height="188" fill="none" stroke="#000" stroke-width="1.15"/>
<text x="985.7" y="250.8" font-size="11.2" text-anchor="middle">Hodograph (wind in kt, height in km)</text>
<g font-family="'DejaVu Sans Mono','Liberation Mono',monospace" font-size="13.9" xml:space="preserve">
<text x="877.0" y="285.7" fill="#000" xml:space="preserve">SRH 0-1km:       -2</text>
<text x="877.0" y="302.6" fill="#000" xml:space="preserve">SRH 0-3km:       63</text>
<text x="876.0" y="321.8" fill="#000" xml:space="preserve">SBCAPE:           0 J/kg</text>
<text x="876.0" y="338.8" fill="#000" xml:space="preserve">MLCAPE:           0 J/kg</text>
<text x="876.0" y="356.7" fill="#000" xml:space="preserve">MUCAPE:           0 J/kg</text>
<text x="876.0" y="373.7" fill="#000" xml:space="preserve">SBCIN:            0 J/kg</text>
<text x="876.0" y="391.7" fill="#000" xml:space="preserve">MLCIN:            0 J/kg</text>
<text x="876.0" y="409.2" fill="#000" xml:space="preserve">DCAPE:            0 J/kg</text>
<text x="876.0" y="426.8" fill="#a52a2a" xml:space="preserve">SHR 200-850mb:   56 kt</text>
<text x="876.0" y="443.8" fill="#945e14" xml:space="preserve">RH 300-850mb:    21 %</text>
<text x="876.0" y="461.4" fill="#000" xml:space="preserve">PWAT:          0.45 in</text>
</g>
<text x="1044.3" y="285.7" font-size="13.9" font-style="oblique">m<tspan dy="-4.6" font-size="9.7" font-style="normal">2</tspan><tspan dy="4.6" dx="0.6">s</tspan><tspan dy="-4.6" dx="0.3" font-size="9.7" font-style="normal">−2</tspan></text>
<text x="1044.3" y="302.6" font-size="13.9" font-style="oblique">m<tspan dy="-4.6" font-size="9.7" font-style="normal">2</tspan><tspan dy="4.6" dx="0.6">s</tspan><tspan dy="-4.6" dx="0.3" font-size="9.7" font-style="normal">−2</tspan></text>
<rect x="892.5" y="500.5" width="204" height="165" fill="none" stroke="#000" stroke-width="1.15"/>
<path d="M901.5 665.5v-4.9M946.5 665.5v-4.9M992.5 665.5v-4.9M1037.5 665.5v-4.9M1082.5 665.5v-4.9M892.5 522.5h4.9M892.5 566.5h4.9M892.5 610.5h4.9" stroke="#000" stroke-width="1.1"/>
<g font-size="11.1"><g text-anchor="middle">
<text x="901.5" y="656.1">290</text>
<text x="946.7" y="656.1">300</text>
<text x="992.2" y="656.1">310</text>
<text x="1037.6" y="656.1">320</text>
<text x="1082.8" y="656.1">330</text>
</g>
<text x="902" y="525.9">400</text>
<text x="902" y="569.9">600</text>
<text x="902" y="613.9">800</text>
<text x="993.5" y="677.8" text-anchor="middle">Equivalent Pot. Temperature (K)</text>
<text transform="translate(884.2 582.7) rotate(-90)" text-anchor="middle">Pressure (hPa)</text>
</g>
<g clip-path="url(#ct)"><path d="M940.2 652.3L950.5 649.5L961.1 648L964.1 636.4L967.5 630.2L970.9 624.5L972 620L970.5 615L964.1 609.8L957.3 604.5L953.2 598.4L955.5 592.3L958.4 587.5L968.6 580.2L980 572.3L986.8 566.1L992.5 560.5L998.2 549.5L1005 543.2L1011.8 538.2L1020.9 533.6L1032.3 527.5L1039.1 523.4L1048.2 516.6L1057.3 511.4L1068.6 505.2L1075.5 502.5L1081.1 500.7L1086 499" stroke="#3a9ab8" stroke-width="2.8" fill="none" stroke-linejoin="round"/></g>
<path d="M0 0.5H1133M0.5 0V747" stroke="#a0a0a0" stroke-width="1" fill="none"/>
<path d="M1 1.5H1132M1.5 1V746" stroke="#696969" stroke-width="1" fill="none"/>
<path d="M1 746.5H1133M1132.5 1V747" stroke="#e3e3e3" stroke-width="1" fill="none"/>
</svg>
</body></html>
